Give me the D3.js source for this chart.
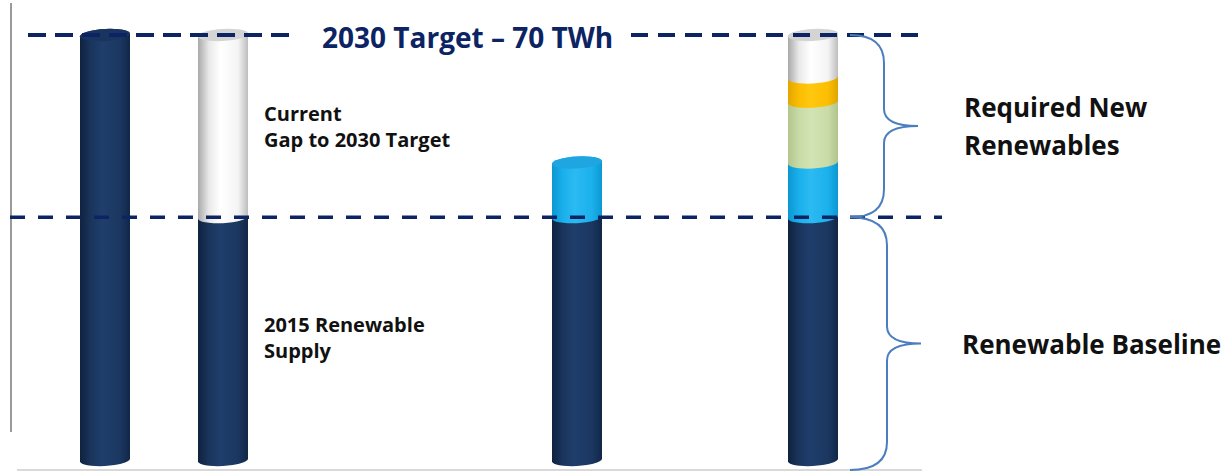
<!DOCTYPE html>
<html>
<head>
<meta charset="utf-8">
<script src="https://cdn.jsdelivr.net/npm/d3@7"></script>
<style>
  html, body { margin: 0; padding: 0; background: #fff; overflow: hidden; }
  svg { display: block; font-family: 'Open Sans', sans-serif; }
</style>
</head>
<body>
<svg id="chart"></svg>
<script>
// chart data (TWh)
const categories = ['2030 Target', 'Current', 'slot3', 'slot4', 'Scenario A', 'slot6', 'Scenario B'];
const seriesKeys = ['supply', 'newBlue', 'newGreen', 'newOrange', 'gap'];
const supply    = [70, 40, 0, 0, 40, 0, 40];
const newBlue   = [0, 0, 0, 0, 9, 0, 9];
const newGreen  = [0, 0, 0, 0, 0, 0, 10];
const newOrange = [0, 0, 0, 0, 0, 0, 4];
const gap       = [0, 30, 0, 0, 0, 0, 7];
const target = 70;
const baseline = 40;

const width = 1227;
const height = 474;

const colors = {
    supply:    ['#10223f', '#1a355c', '#1f3e6b', '#1b3761', '#112747'],
    newBlue:   ['#0b97d0', '#19b0ec', '#2cbaf2', '#1bb1ec', '#0c98d2'],
    newGreen:  ['#b3c68e', '#c8daa6', '#d3e4b4', '#c9dba7', '#b1c48c'],
    newOrange: ['#e3a600', '#fbbd00', '#ffc810', '#fcbe00', '#e0a400'],
    gap:       ['#a9a9a9', '#e9e9e9', '#ffffff', '#f4f4f4', '#bdbdbd']
};
const capColors = {
    supply: '#1a3460',
    newBlue: '#1fa5e0',
    newGreen: '#c3d59f',
    newOrange: '#f3b800',
    gap: '#d4d4d4'
};

const rows = categories.map((c, i) => ({
    cat: c,
    supply: supply[i],
    newBlue: newBlue[i],
    newGreen: newGreen[i],
    newOrange: newOrange[i],
    gap: gap[i]
}));

const stacked = d3.stack().keys(seriesKeys)(rows);

const x = d3.scalePoint()
    .domain(categories)
    .range([105, 813]);

const y = d3.scaleLinear()
    .domain([0, target])
    .range([460, 35]);

const barW = 50;
const ry = 6;

const svg = d3.select('#chart')
    .attr('width', width)
    .attr('height', height);

// gradients
const defs = svg.append('defs');
seriesKeys.forEach(k => {
    const g = defs.append('linearGradient')
        .attr('id', `grad-${k}`)
        .attr('x1', 0).attr('x2', 1).attr('y1', 0).attr('y2', 0);
    [0, 0.22, 0.45, 0.8, 1].forEach((o, i) => {
        g.append('stop').attr('offset', o).attr('stop-color', colors[k][i]);
    });
});

// frame lines
svg.append('line')
    .attr('x1', 11).attr('x2', 11)
    .attr('y1', 3).attr('y2', 432)
    .attr('stroke', '#9a9a9a')
    .attr('stroke-width', 2);

svg.append('line')
    .attr('x1', 17).attr('x2', 922)
    .attr('y1', y(0) + 10).attr('y2', y(0) + 10)
    .attr('stroke', '#d9d9d9')
    .attr('stroke-width', 2);

// cylinders
const bars = svg.selectAll('g.bar')
    .data(rows.filter(r => seriesKeys.some(k => r[k] > 0)))
    .join('g')
        .classed('bar', true)
        .attr('transform', d => `translate(${x(d.cat)},0) skewY(-3)`);

const segPath = (y0, y1) => {
    const x0 = -barW / 2, x1 = barW / 2;
    return `M${x0},${y1} A${barW / 2},${ry} 0 0 1 ${x1},${y1} L${x1},${y0} A${barW / 2},${ry} 0 0 1 ${x0},${y0} Z`;
};

bars.each(function(row) {
    const g = d3.select(this);
    const i = categories.indexOf(row.cat);
    let top = null;
    stacked.forEach(layer => {
        const d = layer[i];
        if (d[1] - d[0] <= 0) return;
        g.append('path')
            .attr('d', segPath(y(d[0]), y(d[1])))
            .attr('fill', `url(#grad-${layer.key})`);
        top = { key: layer.key, v: d[1] };
    });
    if (top) {
        g.append('ellipse')
            .attr('cx', 0)
            .attr('cy', y(top.v))
            .attr('rx', barW / 2)
            .attr('ry', ry)
            .attr('fill', capColors[top.key]);
    }
});

// target / baseline dashed lines
const navy = '#0c2463';

svg.append('text')
    .attr('x', 322)
    .attr('y', 48)
    .attr('fill', navy)
    .attr('font-size', 28)
    .attr('font-weight', 700)
    .text('2030 Target – 70 TWh');

svg.append('line')
    .attr('x1', 28).attr('x2', 296)
    .attr('y1', y(target)).attr('y2', y(target))
    .attr('stroke', navy)
    .attr('stroke-width', 4)
    .attr('stroke-dasharray', '18 9');

svg.append('line')
    .attr('x1', 631).attr('x2', 924)
    .attr('y1', y(target)).attr('y2', y(target))
    .attr('stroke', navy)
    .attr('stroke-width', 4)
    .attr('stroke-dasharray', '17 10');

svg.append('line')
    .attr('x1', 10).attr('x2', 942)
    .attr('y1', y(baseline)).attr('y2', y(baseline))
    .attr('stroke', navy)
    .attr('stroke-width', 3.5)
    .attr('stroke-dasharray', '15 13');

// braces
const brace = (x0, xv, xp, y0, y1) => {
    const ym = (y0 + y1) / 2;
    const r = 28;
    const t = 17;
    return `M${x0},${y0} Q${xv},${y0} ${xv},${y0 + r} L${xv},${ym - t} Q${xv},${ym} ${xp},${ym}` +
        ` Q${xv},${ym} ${xv},${ym + t} L${xv},${y1 - r} Q${xv},${y1} ${x0},${y1}`;
};

const bx = x(categories[6]);

svg.append('path')
    .attr('d', brace(bx + 37, bx + 71, bx + 105, y(target), y(baseline)))
    .attr('fill', 'none')
    .attr('stroke', '#4a7ebf')
    .attr('stroke-width', 2);

svg.append('path')
    .attr('d', brace(bx + 37, bx + 74, bx + 108, y(baseline), y(0) + 10))
    .attr('fill', 'none')
    .attr('stroke', '#4a7ebf')
    .attr('stroke-width', 2);

// labels
const labels = [
    { x: 264, y: 121, size: 20, text: 'Current' },
    { x: 264, y: 147, size: 20, text: 'Gap to 2030 Target' },
    { x: 264, y: 332, size: 20, text: '2015 Renewable' },
    { x: 264, y: 358, size: 20, text: 'Supply' },
    { x: 964, y: 117, size: 26, text: 'Required New' },
    { x: 964, y: 155, size: 26, text: 'Renewables' },
    { x: 962, y: 354, size: 26, text: 'Renewable Baseline' }
];

svg.selectAll('text.label')
    .data(labels)
    .join('text')
        .classed('label', true)
        .attr('x', d => d.x)
        .attr('y', d => d.y)
        .attr('font-size', d => d.size)
        .attr('font-weight', 700)
        .attr('fill', '#111')
        .text(d => d.text);
</script>
</body>
</html>
